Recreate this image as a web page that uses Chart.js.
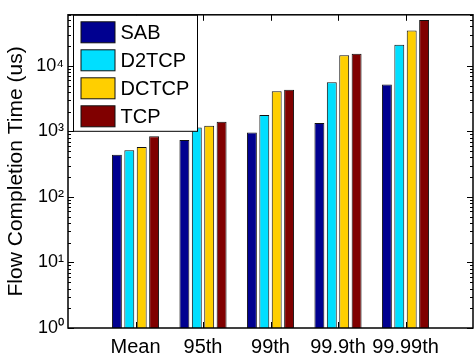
<!DOCTYPE html>
<html>
<head>
<meta charset="utf-8">
<script src="https://cdn.jsdelivr.net/npm/chart.js@4"></script>
<style>
  html, body { margin: 0; padding: 0; background: #fff; overflow: hidden; }
  #fctChart { display: block; }
</style>
</head>
<body>
<canvas id="fctChart" width="480" height="358"></canvas>
<script>
var categories = ['Mean', '95th', '99th', '99.9th', '99.99th'];
var sabValues   = [440, 735, 960, 1340, 5200];
var d2tcpValues = [515, 1150, 1780, 5600, 21000];
var dctcpValues = [575, 1220, 4100, 14500, 34500];
var tcpValues   = [840, 1400, 4300, 15300, 50000];
var seriesNames = ['SAB', 'D2TCP', 'DCTCP', 'TCP'];
var seriesColors = ['#000090', '#00dfff', '#ffcf00', '#800000'];
var yDecades = [1, 10, 100, 1000, 10000];
var yTickLabels = ['10⁰', '10¹', '10²', '10³', '10⁴'];
var yMax = 60000;

var fontFamily = '"Liberation Sans", Arial, Helvetica, sans-serif';

// x runs 0..6 like a matlab bar plot, so pad both ends with an empty slot
var xLabels = [''].concat(categories, ['']);
function pad(values) {
  return [null].concat(values, [null]);
}

// 1..9 in every decade, used for the little inward ticks
var logTicks = [];
yDecades.forEach(function (d) {
  for (var m = 1; m <= 9; m++) {
    if (d * m <= yMax) logTicks.push(d * m);
  }
});

var allSeries = [sabValues, d2tcpValues, dctcpValues, tcpValues];
var datasets = allSeries.map(function (vals, i) {
  return {
    label: seriesNames[i],
    data: pad(vals),
    backgroundColor: seriesColors[i],
    borderColor: '#111',
    borderWidth: 1,
    categoryPercentage: 0.735,
    barPercentage: 0.8
  };
});

// box around the plot with inward ticks on all four sides
var axesFrame = {
  id: 'axesFrame',
  afterDatasetsDraw: function (chart) {
    var ctx = chart.ctx, a = chart.chartArea;
    var xs = chart.scales.x, ys = chart.scales.y;
    ctx.save();
    ctx.strokeStyle = '#000';
    ctx.lineWidth = 1;
    ctx.beginPath();
    logTicks.forEach(function (v) {
      var py = Math.round(ys.getPixelForValue(v)) + 0.5;
      var len = yDecades.indexOf(v) >= 0 ? 6 : 3;
      ctx.moveTo(a.left, py); ctx.lineTo(a.left + len, py);
      ctx.moveTo(a.right, py); ctx.lineTo(a.right - len, py);
    });
    categories.forEach(function (c, i) {
      var px = Math.round(xs.getPixelForValue(i + 1)) + 0.5;
      ctx.moveTo(px, a.top); ctx.lineTo(px, a.top + 6);
      ctx.moveTo(px, a.bottom); ctx.lineTo(px, a.bottom - 6);
    });
    ctx.stroke();
    ctx.lineWidth = 1.5;
    ctx.strokeRect(a.left, a.top, a.right - a.left, a.bottom - a.top);
    ctx.restore();
  }
};

// legend in a white box at the top left of the axes
var boxedLegend = {
  id: 'boxedLegend',
  afterDraw: function (chart) {
    var ctx = chart.ctx, a = chart.chartArea;
    var bx = a.left + 5.5, by = a.top + 0.5, bw = 124, bh = 116;
    ctx.save();
    ctx.fillStyle = '#fff';
    ctx.fillRect(bx, by, bw, bh);
    ctx.strokeStyle = '#000';
    ctx.lineWidth = 1;
    ctx.strokeRect(bx, by, bw, bh);
    ctx.font = '20px ' + fontFamily;
    ctx.textBaseline = 'middle';
    chart.data.datasets.forEach(function (ds, i) {
      var cy = by + 17 + i * 28;
      ctx.fillStyle = ds.backgroundColor;
      ctx.fillRect(bx + 7.5, cy - 10.5, 34, 21);
      ctx.strokeStyle = '#111';
      ctx.strokeRect(bx + 7.5, cy - 10.5, 34, 21);
      ctx.fillStyle = '#000';
      ctx.fillText(ds.label, bx + 47, cy + 1);
    });
    ctx.restore();
  }
};

new Chart(document.getElementById('fctChart'), {
  type: 'bar',
  data: {
    labels: xLabels,
    datasets: datasets
  },
  options: {
    responsive: false,
    animation: false,
    layout: { padding: { top: 5, right: 4, left: 0, bottom: 0 } },
    plugins: {
      legend: { display: false },
      tooltip: { enabled: false }
    },
    scales: {
      x: {
        offset: false,
        grid: { display: false, drawTicks: false },
        border: { display: false },
        ticks: {
          autoSkip: false,
          maxRotation: 0,
          padding: 7,
          color: '#000',
          font: { family: fontFamily, size: 20 }
        },
        afterFit: function (scale) { scale.height = 30; }
      },
      y: {
        type: 'logarithmic',
        min: 1,
        max: yMax,
        grid: { display: false, drawTicks: false },
        border: { display: false },
        afterBuildTicks: function (scale) {
          scale.ticks = logTicks.map(function (v) { return { value: v }; });
        },
        ticks: {
          autoSkip: false,
          padding: 4,
          color: '#000',
          font: { family: fontFamily, size: 18 },
          callback: function (value) {
            var i = yDecades.indexOf(value);
            return i >= 0 ? yTickLabels[i] : '';
          }
        },
        title: {
          display: true,
          text: 'Flow Completion Time (us)',
          color: '#000',
          font: { family: fontFamily, size: 21 }
        },
        afterFit: function (scale) { scale.width = 68; }
      }
    }
  },
  plugins: [axesFrame, boxedLegend]
});
</script>
</body>
</html>
